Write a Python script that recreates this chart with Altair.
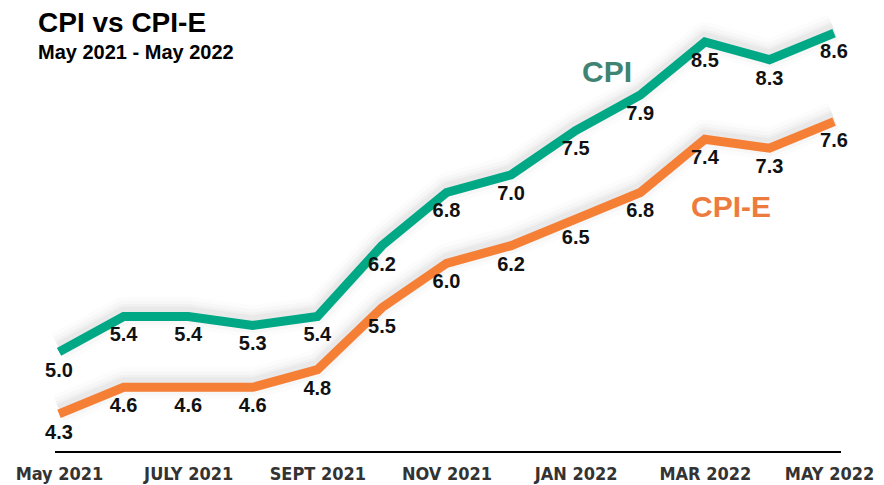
import altair as alt
import pandas as pd

# ---- data ----
month_index = list(range(13))
months = ["May 2021", "Jun 2021", "Jul 2021", "Aug 2021", "Sep 2021", "Oct 2021",
          "Nov 2021", "Dec 2021", "Jan 2022", "Feb 2022", "Mar 2022", "Apr 2022", "May 2022"]
cpi = [5.0, 5.4, 5.4, 5.3, 5.4, 6.2, 6.8, 7.0, 7.5, 7.9, 8.5, 8.3, 8.6]
cpi_e = [4.3, 4.6, 4.6, 4.6, 4.8, 5.5, 6.0, 6.2, 6.5, 6.8, 7.4, 7.3, 7.6]
tick_values = [0, 2, 4, 6, 8, 10, 12]
tick_labels = ["May 2021", "JULY 2021", "SEPT 2021", "NOV 2021", "JAN 2022", "MAR 2022", "MAY 2022"]

df = pd.DataFrame({
    "i": month_index * 2,
    "month": months * 2,
    "value": cpi + cpi_e,
    "series": ["CPI"] * 13 + ["CPI-E"] * 13,
})

GREEN = "#00A886"
ORANGE = "#F67F36"
FONT = "Liberation Sans"

label_expr = "[" + ",".join("'%s'" % t for t in tick_labels) + "][round(datum.value / 2)]"

x_enc = alt.X("i:Q",
              scale=alt.Scale(domain=[-0.7897, 12.526], nice=False, zero=False),
              axis=alt.Axis(values=tick_values, labelExpr=label_expr, title=None,
                            domain=False, ticks=False, tickSize=0, grid=False,
                            labelFont="DejaVu Sans Condensed", labelFontWeight="bold",
                            labelFontSize=18, labelColor="#333333",
                            labelBaseline="alphabetic", labelPadding=27,
                            labelOffset={"condition": {"test": "datum.value == 12", "value": -5},
                                         "value": 0},
                            labelOverlap=False, labelFlush=False))
y_enc = alt.Y("value:Q",
              scale=alt.Scale(domain=[3.87, 8.883], nice=False, zero=False),
              axis=None)
color_enc = alt.Color("series:N",
                      scale=alt.Scale(domain=["CPI", "CPI-E"], range=[GREEN, ORANGE]),
                      legend=None)

base = alt.Chart(df)

shadows = [
    base.mark_line(color="black", opacity=op, strokeWidth=w, yOffset=-4,
                   strokeJoin="round").encode(x=x_enc, y=y_enc, detail="series:N")
    for w, op in [(32, 0.012), (24, 0.018), (17, 0.025), (12, 0.03)]
]

lines = base.mark_line(strokeWidth=9, strokeJoin="miter", strokeCap="butt").encode(
    x=x_enc, y=y_enc, color=color_enc)

labels = base.mark_text(font=FONT, fontWeight="bold", fontSize=20, color="#111111",
                        dy=19, baseline="middle").encode(
    x=x_enc, y=y_enc, text=alt.Text("value:Q", format=".1f"))

baseline = alt.Chart(pd.DataFrame({"a": [0]})).mark_rule(color="black", strokeWidth=2).encode(
    x=alt.value(47), x2=alt.value(833), y=alt.value(444))

ann = pd.DataFrame({
    "text": ["CPI vs CPI-E", "May 2021 - May 2022", "CPI", "CPI-E"],
})
title = alt.Chart(ann).transform_filter("datum.text == 'CPI vs CPI-E'").mark_text(
    font=FONT, fontWeight="bold", fontSize=28, align="left", baseline="alphabetic",
    color="#000000").encode(x=alt.value(30), y=alt.value(24), text="text:N")
subtitle = alt.Chart(ann).transform_filter("datum.text == 'May 2021 - May 2022'").mark_text(
    font=FONT, fontWeight="bold", fontSize=20, align="left", baseline="alphabetic",
    color="#000000").encode(x=alt.value(30), y=alt.value(51), text="text:N")
cpi_name = alt.Chart(ann).transform_filter("datum.text == 'CPI'").mark_text(
    font=FONT, fontWeight="bold", fontSize=30, align="center", baseline="middle",
    color="#3F8373").encode(x=alt.value(599), y=alt.value(65), text="text:N")
cpie_name = alt.Chart(ann).transform_filter("datum.text == 'CPI-E'").mark_text(
    font=FONT, fontWeight="bold", fontSize=30, align="center", baseline="middle",
    color="#EE7B3E").encode(x=alt.value(723), y=alt.value(200), text="text:N")

chart = alt.layer(*shadows, lines, labels, baseline, title, subtitle, cpi_name, cpie_name).properties(
    width=860, height=444,
    background="white",
    view=alt.ViewBackground(stroke="transparent", strokeWidth=0, strokeOpacity=0),
    autosize=alt.AutoSizeParams(type="none"),
    padding={"left": 0, "top": 0, "right": 8, "bottom": 33},
).configure_view(strokeWidth=0, stroke="transparent")

chart.save("out.html", embed_options={"renderer": "svg", "actions": False})
